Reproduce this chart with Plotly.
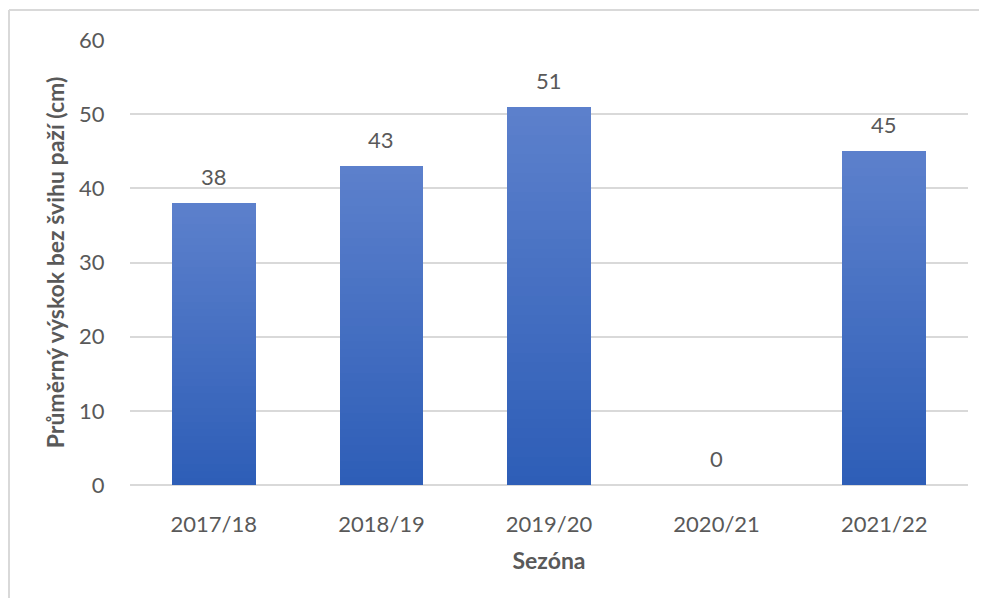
import plotly.graph_objects as go

seasons = ["2017/18", "2018/19", "2019/20", "2020/21", "2021/22"]
values = [38, 43, 51, 0, 45]
y_ticks = [0, 10, 20, 30, 40, 50, 60]

FONT = "Lato"
TXT = "#595959"
GRID = "#d9d9d9"

# gradient: light at top, dark at bottom (per bar), built by stacking equal slices
top_rgb = (0x5C, 0x80, 0xCC)
bot_rgb = (0x2E, 0x5E, 0xB7)
N = 40

fig = go.Figure()
for i in range(N):
    t = i / (N - 1)  # 0 bottom -> 1 top
    c = tuple(round(b + (a - b) * t) for a, b in zip(top_rgb, bot_rgb))
    fig.add_trace(go.Bar(
        x=seasons,
        y=[v / N for v in values],
        marker=dict(color="rgb(%d,%d,%d)" % c, line=dict(width=0)),
        hoverinfo="skip",
        showlegend=False,
    ))

for s, v in zip(seasons, values):
    fig.add_annotation(x=s, y=v, text=str(v), showarrow=False, yanchor="bottom",
                       yshift=11, font=dict(family=FONT, size=22, color=TXT))

# outer chart border (top and left edges visible)
fig.add_shape(type="line", xref="paper", yref="paper", x0=-0.1444, x1=1.03,
              y0=1.0674, y1=1.0674, line=dict(color=GRID, width=2))
fig.add_shape(type="line", xref="paper", yref="paper", x0=-0.1444, x1=-0.1444,
              y0=1.0674, y1=-0.3, line=dict(color=GRID, width=2))

fig.update_layout(
    width=979, height=590,
    margin=dict(l=122, r=19, t=32, b=113),
    barmode="stack", bargap=0.5,
    plot_bgcolor="white", paper_bgcolor="white",
    font=dict(family=FONT, color=TXT),
    xaxis=dict(
        title=dict(text="<b>Sezóna</b>", font=dict(family=FONT, size=23, color=TXT), standoff=16),
        tickfont=dict(family=FONT, size=22, color=TXT),
        showgrid=False, showline=False,
        ticks="outside", ticklen=20, tickcolor="rgba(0,0,0,0)",
    ),
    yaxis=dict(
        title=dict(text="<b>Průměrný výskok bez švihu paží (cm)</b>",
                   font=dict(family=FONT, size=23, color=TXT), standoff=8),
        range=[0, 60], tickvals=y_ticks,
        tickfont=dict(family=FONT, size=22, color=TXT),
        showgrid=True, gridcolor=GRID, gridwidth=2,
        zeroline=True, zerolinecolor=GRID, zerolinewidth=2,
        ticks="outside", ticklen=20, tickcolor="rgba(0,0,0,0)",
        showline=False,
    ),
)

fig.write_html("out.html")
